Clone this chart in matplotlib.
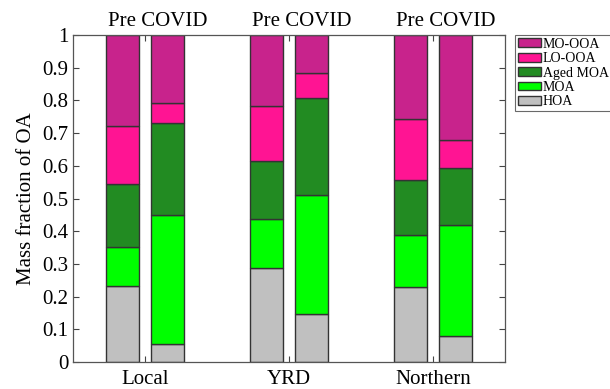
import matplotlib
matplotlib.use("Agg")
import matplotlib.pyplot as plt
import numpy as np

plt.rcParams["font.family"] = ["Liberation Serif", "DejaVu Serif"]

regions = ["Local", "YRD", "Northern"]
periods = ["Pre", "COVID"]
factors = ["HOA", "MOA", "Aged MOA", "LO-OOA", "MO-OOA"]
colors = ["#c0c0c0", "#00ff00", "#228b22", "#ff1493", "#c8238c"]

# mass fractions, one row per bar: Local Pre, Local COVID, YRD Pre, ...
hoa      = [0.232, 0.054, 0.287, 0.148, 0.230, 0.080]
moa      = [0.121, 0.395, 0.151, 0.364, 0.159, 0.340]
aged_moa = [0.192, 0.281, 0.178, 0.296, 0.168, 0.174]
lo_ooa   = [0.178, 0.062, 0.166, 0.076, 0.185, 0.084]
mo_ooa   = [0.277, 0.208, 0.218, 0.116, 0.258, 0.322]
fractions = np.array([hoa, moa, aged_moa, lo_ooa, mo_ooa])

fig = plt.figure(figsize=(6.1, 3.89), dpi=100)
ax = fig.add_axes([73 / 610, 27 / 389, 432 / 610, 327 / 389])

centers = np.arange(1, len(regions) + 1)
offset = 0.156
width = 0.224
xpos = np.array([[c - offset, c + offset] for c in centers]).ravel()

bottom = np.zeros(len(xpos))
handles = []
for vals, name, col in zip(fractions, factors, colors):
    b = ax.bar(xpos, vals, width, bottom=bottom, color=col,
               edgecolor="#333333", linewidth=1.0, label=name)
    handles.append(b)
    bottom += vals

for c in centers:
    ax.text(c + 0.09, 1.012, "Pre COVID", ha="center", va="bottom",
            fontsize=15, transform=ax.get_xaxis_transform())

ax.set_xlim(0.5, 3.5)
ax.set_ylim(0, 1)
ax.set_xticks(centers)
ax.set_xticklabels(regions, fontsize=15)
ax.set_yticks(np.arange(0, 1.01, 0.1))
ax.set_yticklabels(["0"] + [f"{v:.1f}" for v in np.arange(0.1, 0.95, 0.1)] + ["1"],
                   fontsize=15)
ax.tick_params(direction="in", top=True, right=True, length=4,
               width=0.8, color="#444444")
ax.tick_params(axis="x", pad=6)
for s in ax.spines.values():
    s.set_color("#555555")
    s.set_linewidth(0.9)
ax.set_ylabel("Mass fraction of OA", fontsize=15, labelpad=4)

leg = fig.legend(handles[::-1], factors[::-1], loc="upper left",
                 bbox_to_anchor=(515 / 610, 1 - 35 / 389), fontsize=10,
                 frameon=True, fancybox=False, borderpad=0.2,
                 labelspacing=0.1, handlelength=1.7, handleheight=0.6,
                 handletextpad=0.1, borderaxespad=0)
leg.get_frame().set_edgecolor("#444444")
leg.get_frame().set_linewidth(0.8)

fig.savefig("out.png", dpi=100)
